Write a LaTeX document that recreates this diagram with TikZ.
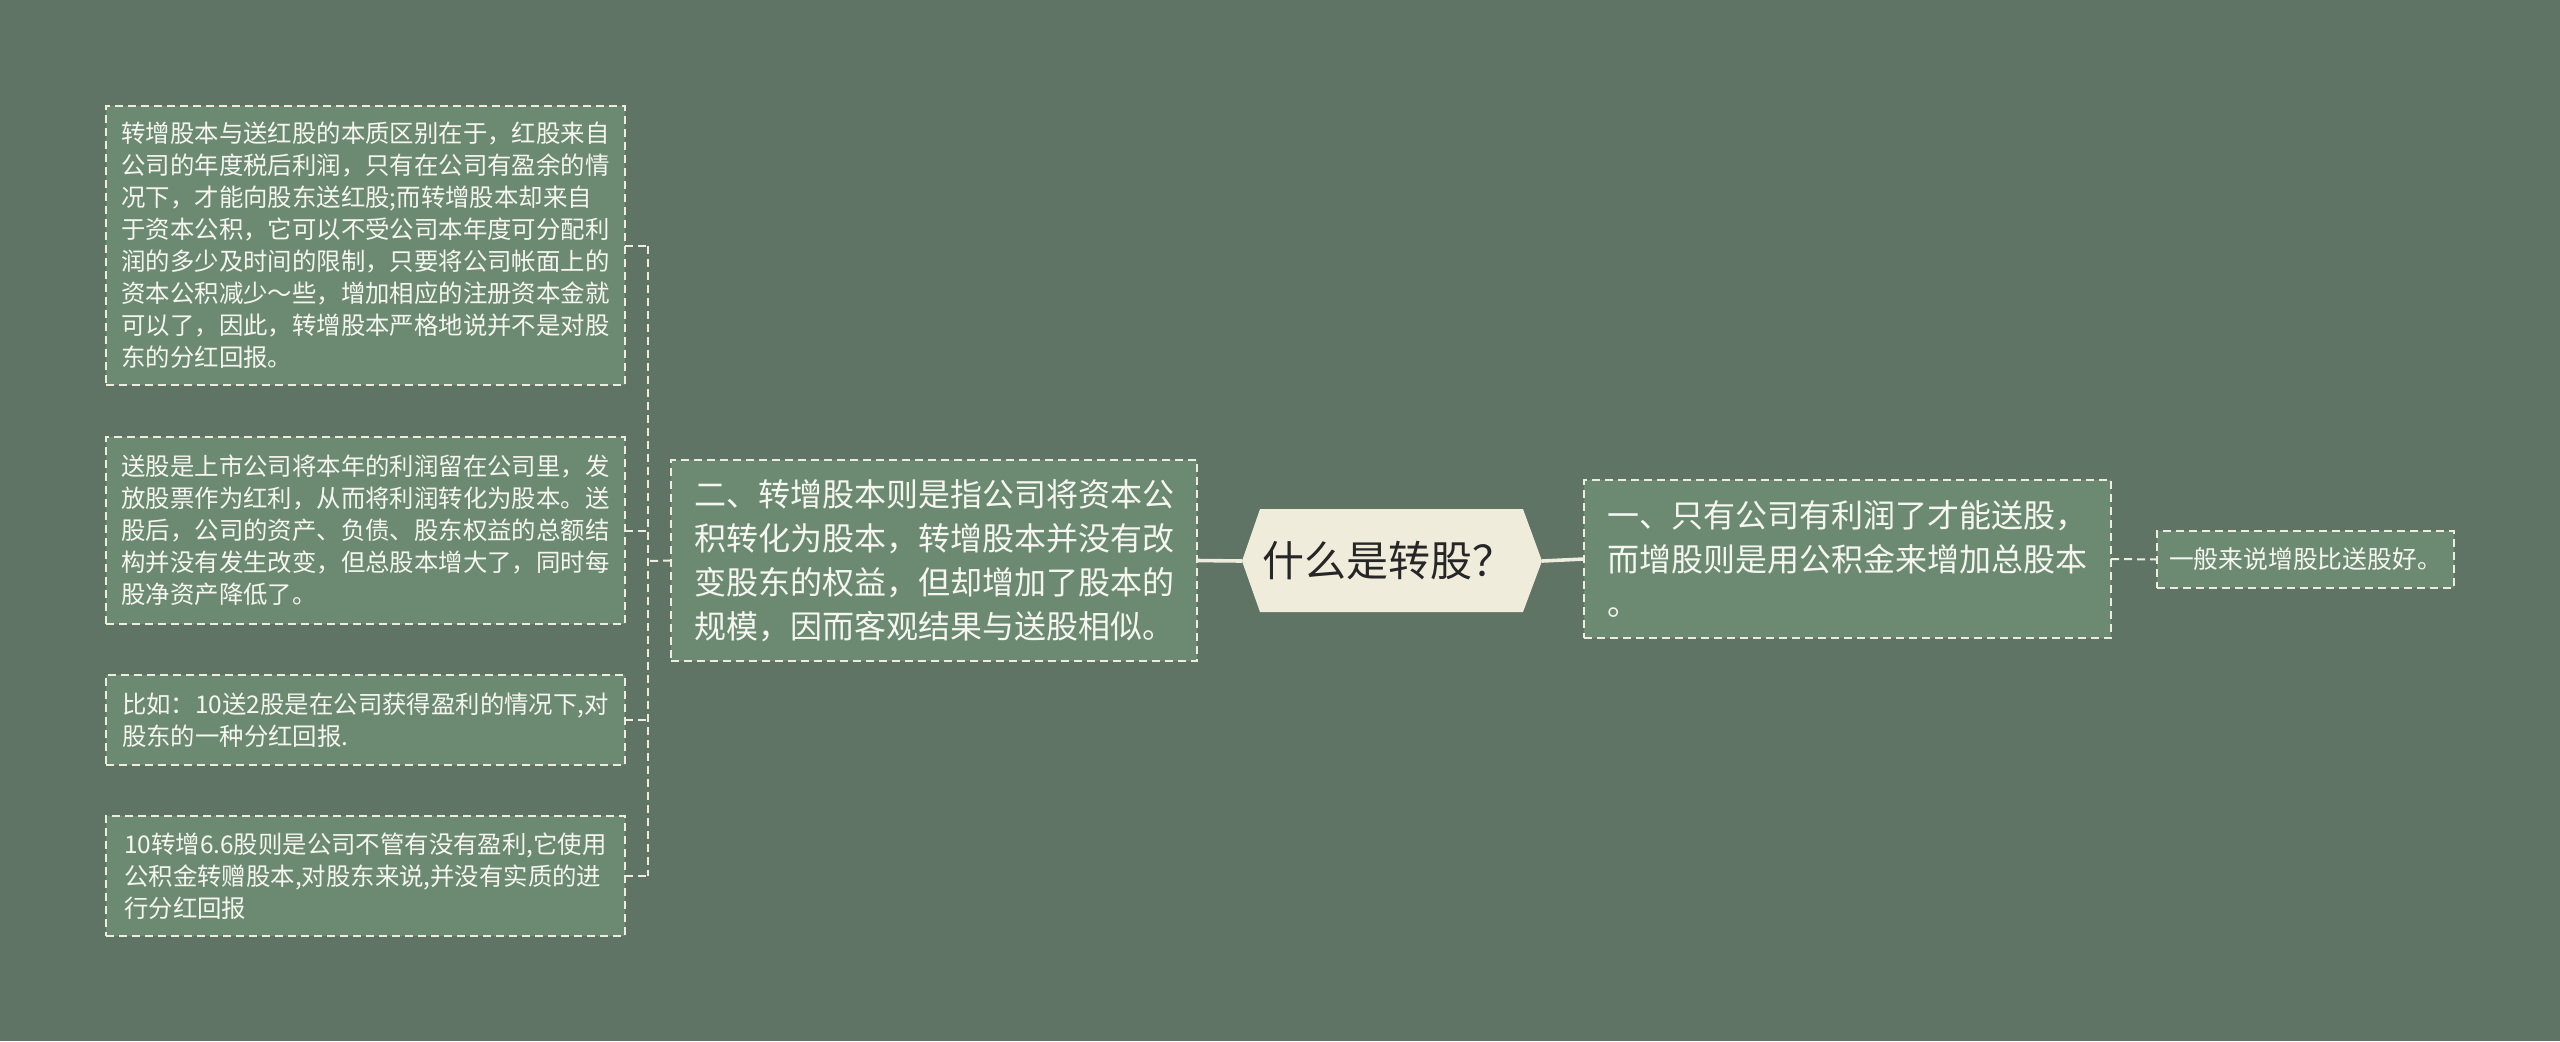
\documentclass[tikz,border=0pt]{standalone}
\usepackage{fontspec}
\setmainfont{Noto Sans CJK SC}
\usetikzlibrary{backgrounds}
\definecolor{bg}{RGB}{95,116,100}
\definecolor{boxfill}{RGB}{108,138,114}
\definecolor{linec}{RGB}{238,236,222}
\definecolor{rootfill}{RGB}{240,236,220}
\definecolor{roottext}{RGB}{38,38,38}
\definecolor{boxtext}{RGB}{246,246,240}
\begin{document}
\begin{tikzpicture}[x=0.5pt,y=-0.5pt,
  box/.style={draw=linec, line width=1pt, dash pattern=on 4pt off 2.5pt, fill=boxfill,
    text=boxtext, rectangle, outer sep=0pt, inner ysep=0pt, align=left},
  leafbox/.style={box, inner xsep=6pt, minimum width=259.5pt,
    font=\fontsize{12.2pt}{16pt}\selectfont},
  branchbox/.style={box, inner xsep=9pt, minimum width=263pt,
    font=\fontsize{16pt}{22pt}\selectfont},
  conn/.style={draw=linec, line width=1pt, dash pattern=on 4pt off 2.5pt},
  mainconn/.style={draw=linec, line width=1.8pt}
]
\begin{scope}[on background layer]
\fill[bg] (0,0) rectangle (2560,1041);
\fill[rootfill] (1242,561) -- (1260,509) -- (1523,509) -- (1542,561) -- (1523,612) -- (1260,612) -- cycle;
\end{scope}
\useasboundingbox (0,0) rectangle (2560,1041);

% root
\node[text=roottext, font=\fontsize{21pt}{26pt}\selectfont, inner sep=0pt] (root) at (1388,561) {什么是转股？};
\coordinate (rootL) at (1242,561);
\coordinate (rootR) at (1542,561);

% branches
\node[branchbox, minimum height=100.5pt] (b2) at (934,560.5) {二、转增股本则是指公司将资本公\\积转化为股本，转增股本并没有改\\变股东的权益，但却增加了股本的\\规模，因而客观结果与送股相似。};
\node[branchbox, minimum width=263.5pt, minimum height=79pt] (b1) at (1847.5,559) {一、只有公司有利润了才能送股，\\而增股则是用公积金来增加总股本\\。};

% left leaves
\node[leafbox, minimum height=139.5pt] (l1) at (365.5,245.5) {转增股本与送红股的本质区别在于，红股来自\\公司的年度税后利润，只有在公司有盈余的情\\况下，才能向股东送红股;而转增股本却来自\\于资本公积，它可以不受公司本年度可分配利\\润的多少及时间的限制，只要将公司帐面上的\\资本公积减少～些，增加相应的注册资本金就\\可以了，因此，转增股本严格地说并不是对股\\东的分红回报。};
\node[leafbox, minimum height=93.5pt] (l2) at (365.5,530.5) {送股是上市公司将本年的利润留在公司里，发\\放股票作为红利，从而将利润转化为股本。送\\股后，公司的资产、负债、股东权益的总额结\\构并没有发生改变，但总股本增大了，同时每\\股净资产降低了。};
\node[leafbox, minimum height=45pt] (l3) at (365.5,720) {比如：10送2股是在公司获得盈利的情况下,对\\股东的一种分红回报.};
\node[leafbox, minimum height=60pt] (l4) at (365.5,876) {10转增6.6股则是公司不管有没有盈利,它使用\\公积金转赠股本,对股东来说,并没有实质的进\\行分红回报};

% right leaf
\node[box, inner xsep=5pt, minimum width=148.5pt, minimum height=28.5pt,
  font=\fontsize{12.4pt}{16pt}\selectfont] (r1) at (2305.5,559.5) {一般来说增股比送股好。};

% connectors
\draw[mainconn] (rootL) -- (b2.east);
\draw[mainconn] (rootR) -- (b1.west);
\draw[conn] (b1.east) -- (r1.west);

\coordinate (bus) at (648,561);
\draw[conn] (b2.west) -- (bus);
\draw[conn] (bus |- l1.east) -- (bus |- l4.east);
\draw[conn] (l1.east) -- (l1.east -| bus);
\draw[conn] (l2.east) -- (l2.east -| bus);
\draw[conn] (l3.east) -- (l3.east -| bus);
\draw[conn] (l4.east) -- (l4.east -| bus);
\end{tikzpicture}
\end{document}
